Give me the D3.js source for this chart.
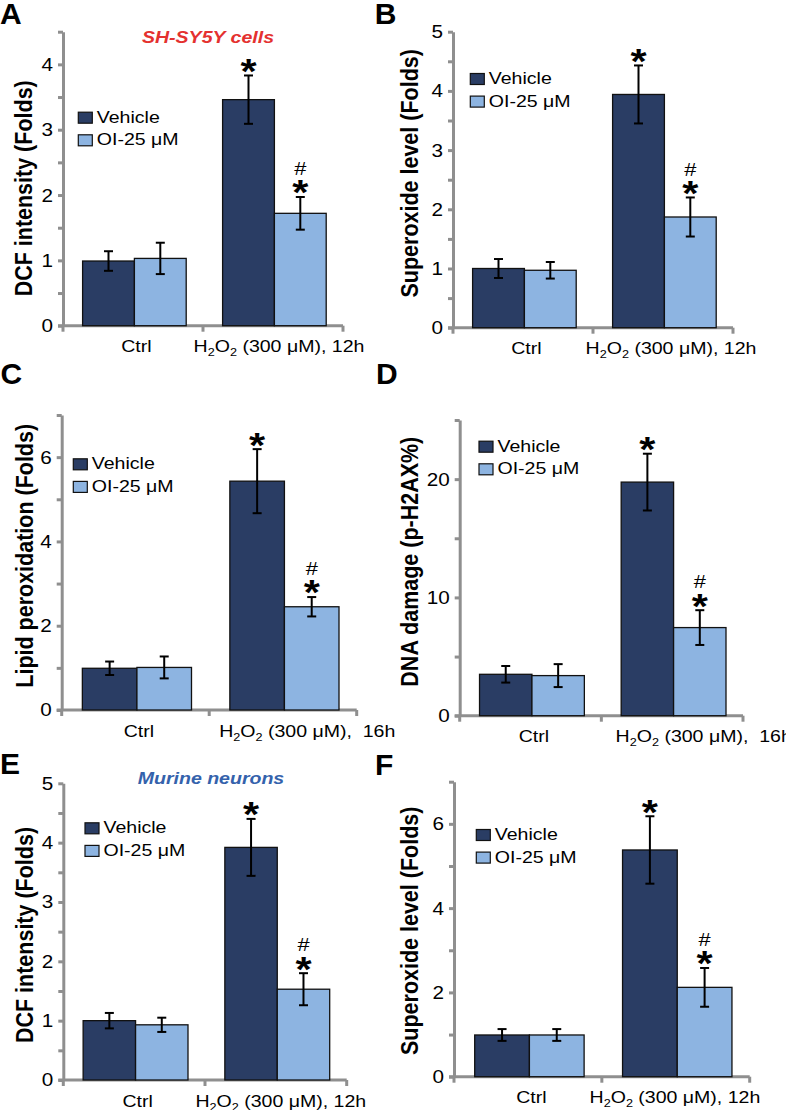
<!DOCTYPE html>
<html><head><meta charset="utf-8">
<script src="https://cdn.jsdelivr.net/npm/d3@7"></script>
<style>
body{margin:0;background:#fff}
svg{display:block}
text{font-family:"Liberation Sans",Arial,Helvetica,sans-serif}
</style>
</head><body>
<svg id="chart" width="786" height="1110"></svg>
<script>
// ---------- data ----------
const panelLetters = ["A","B","C","D","E","F"];
const seriesNames = ["Vehicle","OI-25 μM"];
const categories = ["Ctrl","H2O2"];
const treatmentLabels = ["(300 μM), 12h","(300 μM), 12h","(300 μM),  16h","(300 μM),  16h","(300 μM), 12h","(300 μM), 12h"];
const yTitles = ["DCF intensity (Folds)","Superoxide level (Folds)","Lipid peroxidation (Folds)","DNA damage (p-H2AX%)","DCF intensity (Folds)","Superoxide level (Folds)"];
const panelTitles = ["SH-SY5Y cells","","","","Murine neurons",""];
const vehicleMeans = [[0.99,3.46],[1.00,3.94],[0.99,5.43],[3.5,19.75],[1.00,3.92],[0.99,5.38]];
const vehicleErrs  = [[0.15,0.37],[0.16,0.49],[0.16,0.76],[0.7,2.4],[0.13,0.48],[0.14,0.80]];
const oiMeans      = [[1.03,1.72],[0.97,1.87],[1.01,2.45],[3.39,7.45],[0.93,1.53],[0.99,2.12]];
const oiErrs       = [[0.24,0.25],[0.14,0.33],[0.26,0.23],[0.97,1.47],[0.12,0.27],[0.14,0.46]];
const yMaxes = [4.5,5,7,25,5,7];
const yLabelSteps = [1,1,2,10,1,2];
const yTickSteps = [0.5,0.5,1,5,0.5,1];
const vehicleSig = ["","*"];
const oiSig = ["","#*"];

// ---------- layout / style ----------
const layout = [
 {ax:63,   zeroY:325.7,  topY:31.7,  xEnd:343,   letterX:0,     letterY:23.5,  yTitleX:23.3,  yTitleY:188.3, legX:78.3,  legY:122.7, titleX:208, titleY:43.3, h2Dx:-29},
 {ax:453,  zeroY:327.7,  topY:31.7,  xEnd:733,   letterX:374.7, letterY:24,    yTitleX:408.8, yTitleY:173.3, legX:470.3, legY:84,    h2Dx:-27},
 {ax:61.7, zeroY:710,    topY:415,   xEnd:356.7, letterX:0.5,   letterY:383.5, yTitleX:24,    yTitleY:555.8, legX:73.3,  legY:469.3, h2Dx:-10.7},
 {ax:459.7,zeroY:715.7,  topY:420,   xEnd:743,   letterX:376,   letterY:383.5, yTitleX:408.8, yTitleY:561.7, legX:479,   legY:451.7, h2Dx:-5.6},
 {ax:63.3, zeroY:1080,   topY:783.3, xEnd:346.7, letterX:0,     letterY:774,   yTitleX:24.2,  yTitleY:935,   legX:85,    legY:833.3, titleX:211, titleY:784, h2Dx:-29.4},
 {ax:454,  zeroY:1076.7, topY:781.7, xEnd:749.7, letterX:375,   letterY:775,   yTitleX:408.8, yTitleY:930.8, legX:476.3, legY:840,   h2Dx:-33}
];
const colors = ["#2a3d64","#8db4e1"];
const titleColors = ["#e4312f","","","","#3462ac",""];
const axisColor = "#8f8f8f";
const SX = 1.15; // horizontal stretch of the original figure

const svg = d3.select("#chart");

function stretched(g, x, y, rot) {
  return g.append("text").attr("transform", `translate(${x},${y}) scale(${SX},1)` + (rot ? ` rotate(${rot})` : ""));
}

layout.forEach((L, i) => {
  const g = svg.append("g");
  const y = d3.scaleLinear().domain([0, yMaxes[i]]).range([L.zeroY, L.topY]);
  const x = d3.scaleBand().domain(categories).range([L.ax, L.xEnd]).padding(0);
  const bw = x.bandwidth();
  const inner = d3.scaleBand().domain(seriesNames).range([0.14 * bw, 0.88 * bw]).padding(0);
  const groupMid = (inner.range()[0] + inner.range()[1]) / 2;

  // panel letter
  g.append("text").attr("x", L.letterX).attr("y", L.letterY)
    .attr("font-size", 30).attr("font-weight", "bold").attr("fill", "#000").text(panelLetters[i]);

  // panel title
  if (panelTitles[i]) {
    stretched(g, L.titleX, L.titleY).attr("text-anchor", "middle").attr("font-size", 17)
      .attr("font-weight", "bold").attr("font-style", "italic").attr("fill", titleColors[i]).text(panelTitles[i]);
  }

  // y axis
  const labelTicks = d3.range(0, yMaxes[i] + 1e-9, yLabelSteps[i]);
  const allTicks = d3.range(0, yMaxes[i] + 1e-9, yTickSteps[i]);
  const yAxis = g.append("g").attr("transform", `translate(${L.ax},0)`)
    .call(d3.axisLeft(y).tickValues(allTicks).tickSize(5).tickSizeOuter(0).tickFormat(""));
  yAxis.select(".domain").attr("stroke", axisColor).attr("stroke-width", 3);
  yAxis.selectAll(".tick line").attr("stroke", axisColor).attr("stroke-width", 3);
  labelTicks.forEach(v => {
    stretched(g, L.ax - 10, y(v)).attr("dy", "0.36em").attr("text-anchor", "end")
      .attr("font-size", 18).attr("fill", "#000").text(d3.format("~g")(v));
  });

  // x axis
  g.append("line").attr("x1", L.ax - 5).attr("x2", L.xEnd).attr("y1", L.zeroY).attr("y2", L.zeroY)
    .attr("stroke", axisColor).attr("stroke-width", 3);
  const bounds = categories.map(c => x(c)).concat([x(categories[categories.length - 1]) + bw]);
  bounds.forEach(b => {
    g.append("line").attr("x1", b).attr("x2", b).attr("y1", L.zeroY).attr("y2", L.zeroY + 6)
      .attr("stroke", axisColor).attr("stroke-width", 3);
  });

  // y title
  stretched(g, L.yTitleX, L.yTitleY, -90).attr("text-anchor", "middle").attr("dy", "0.36em")
    .attr("font-size", 21.5).attr("font-weight", "bold").attr("fill", "#000").text(yTitles[i]);

  // bars
  const series = [
    {name: seriesNames[0], means: vehicleMeans[i], errs: vehicleErrs[i], sig: vehicleSig, color: colors[0]},
    {name: seriesNames[1], means: oiMeans[i], errs: oiErrs[i], sig: oiSig, color: colors[1]}
  ];
  series.forEach(s => {
    categories.forEach((c, ci) => {
      const x0 = x(c) + inner(s.name);
      const v = s.means[ci], e = s.errs[ci];
      g.append("rect").attr("x", x0).attr("y", y(v)).attr("width", inner.bandwidth()).attr("height", y(0) - y(v))
        .attr("fill", s.color).attr("stroke", "#111").attr("stroke-width", 1.3);
      const cx = x0 + inner.bandwidth() / 2;
      g.append("line").attr("x1", cx).attr("x2", cx).attr("y1", y(v + e)).attr("y2", y(v - e))
        .attr("stroke", "#000").attr("stroke-width", 2);
      [v + e, v - e].forEach(t => {
        g.append("line").attr("x1", cx - 4.5).attr("x2", cx + 4.5).attr("y1", y(t)).attr("y2", y(t))
          .attr("stroke", "#000").attr("stroke-width", 2);
      });
      const mark = s.sig[ci];
      if (mark.includes("*")) {
        const cy = y(v + e) - 13.5;
        stretched(g, cx, cy + 0.58 * 36).attr("text-anchor", "middle").attr("font-size", 36)
          .attr("font-weight", "bold").attr("fill", "#000").text("*");
      }
      if (mark.includes("#")) {
        const cy = y(v + e) - 28.5;
        stretched(g, cx, cy + 0.35 * 19).attr("text-anchor", "middle").attr("font-size", 19)
          .attr("fill", "#000").text("#");
      }
    });
  });

  // x labels
  const c0 = categories[0], c1 = categories[1];
  stretched(g, x(c0) + groupMid + 2, L.zeroY + 26.5).attr("text-anchor", "middle").attr("font-size", 17)
    .attr("fill", "#000").text(c0);
  const t = stretched(g, x(c1) + inner(seriesNames[0]) + L.h2Dx, L.zeroY + 26.5).attr("font-size", 17)
    .attr("fill", "#000").attr("xml:space", "preserve").style("white-space", "pre");
  t.append("tspan").text("H");
  t.append("tspan").attr("font-size", 11).attr("dy", 4).text("2");
  t.append("tspan").attr("dy", -4).text("O");
  t.append("tspan").attr("font-size", 11).attr("dy", 4).text("2");
  t.append("tspan").attr("dy", -4).text(" " + treatmentLabels[i]);

  // legend
  seriesNames.forEach((n, k) => {
    const by = L.legY + k * 22.6;
    g.append("rect").attr("x", L.legX).attr("y", by - 10.5).attr("width", 14).attr("height", 11)
      .attr("fill", colors[k]).attr("stroke", "#111").attr("stroke-width", 1.2);
    stretched(g, L.legX + 18.5, by).attr("font-size", 17).attr("fill", "#000").text(n);
  });
});
</script>
</body></html>
